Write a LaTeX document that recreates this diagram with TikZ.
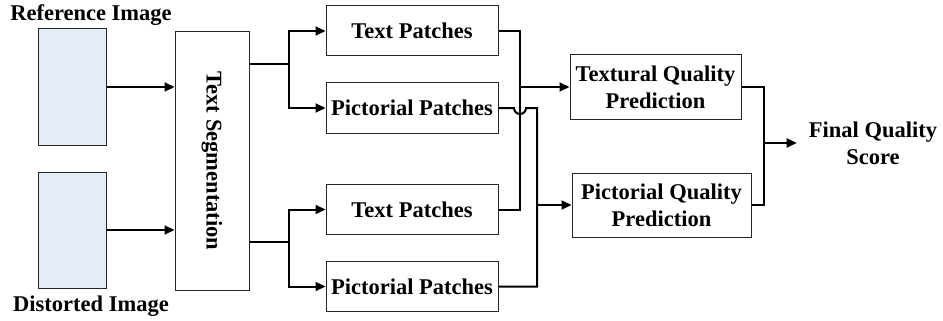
\documentclass[tikz,border=0pt]{standalone}
\usepackage{fontspec}
\setmainfont{Liberation Serif}
\usetikzlibrary{arrows.meta,calc}
\definecolor{imgfill}{RGB}{230,236,246}
\tikzset{
  lbl/.style={font=\fontsize{22.5}{27}\selectfont\bfseries, align=center},
  box/.style={draw=black!85, line width=1pt, fill=white, inner sep=0pt, lbl},
  imgbox/.style={draw=black!85, line width=1pt, fill=imgfill, inner sep=0pt,
                 minimum width=68pt, minimum height=116pt},
  wire/.style={line width=2pt, black},
  arr/.style={wire, -{Triangle[length=10pt,width=9pt]}},
}
\begin{document}
\begin{tikzpicture}[x=1pt,y=-1pt]
  \useasboundingbox (0,0) rectangle (943,321);

  % input images
  \node[imgbox] (ref) at (72,87) {};
  \node[imgbox] (dist) at (72,230) {};
  \node[lbl] (reflbl) at (91,15) {Reference Image};
  \node[lbl] (distlbl) at (91,306) {Distorted Image};

  % segmentation stage
  \node[box, minimum width=74pt, minimum height=258pt] (ts) at (212,161) {};
  \node[lbl, rotate=-90] (tstext) at (212,161) {Text Segmentation};

  % patch boxes
  \node[box, minimum width=172pt, minimum height=50pt] (tp1) at (412,31) {Text Patches};
  \node[box, minimum width=172pt, minimum height=50pt] (pp1) at (412,108) {Pictorial Patches};
  \node[box, minimum width=172pt, minimum height=50pt] (tp2) at (412,209.5) {Text Patches};
  \node[box, minimum width=172pt, minimum height=50pt] (pp2) at (412,286.5) {Pictorial Patches};

  % quality prediction boxes
  \node[box, minimum width=171pt, minimum height=64pt] (tq) at (655.5,87) {Textural Quality\\Prediction};
  \node[box, minimum width=179pt, minimum height=64pt] (pq) at (661.5,205) {Pictorial Quality\\Prediction};

  % output
  \node[lbl, inner sep=12pt] (fs) at (873,143) {Final Quality\\Score};

  % inputs into segmentation
  \draw[arr] (ref.east) -- (ts.west |- ref.east);
  \draw[arr] (dist.east) -- (ts.west |- dist.east);

  % segmentation splits
  \coordinate (b1) at (289,64);
  \coordinate (b2) at (289,242);
  \draw[wire] (ts.east |- b1) -- (b1);
  \draw[arr] (b1) |- (tp1.west);
  \draw[arr] (b1) |- (pp1.west);
  \draw[wire] (ts.east |- b2) -- (b2);
  \draw[arr] (b2) |- (tp2.west);
  \draw[arr] (b2) |- (pp2.west);

  % text patches merge
  \coordinate (j1) at (520,150);
  \draw[wire] (tp1.east) -| (j1) |- (tp2.east);
  \draw[arr] (j1 |- tq.west) -- (tq.west);

  % pictorial patches merge, hopping over the text line
  \coordinate (j2) at (537,200);
  \draw[wire] (pp1.east) -- ($(j1 |- pp1.east)+(-6,0)$)
    arc[start angle=180, end angle=0, radius=6] -| (j2) |- (pp2.east);
  \draw[arr] (j2 |- pq.west) -- (pq.west);

  % final fusion
  \coordinate (j3) at (764,143);
  \draw[wire] (tq.east) -| (j3) |- (pq.east);
  \draw[arr] (j3) -- (fs.west);
\end{tikzpicture}
\end{document}
